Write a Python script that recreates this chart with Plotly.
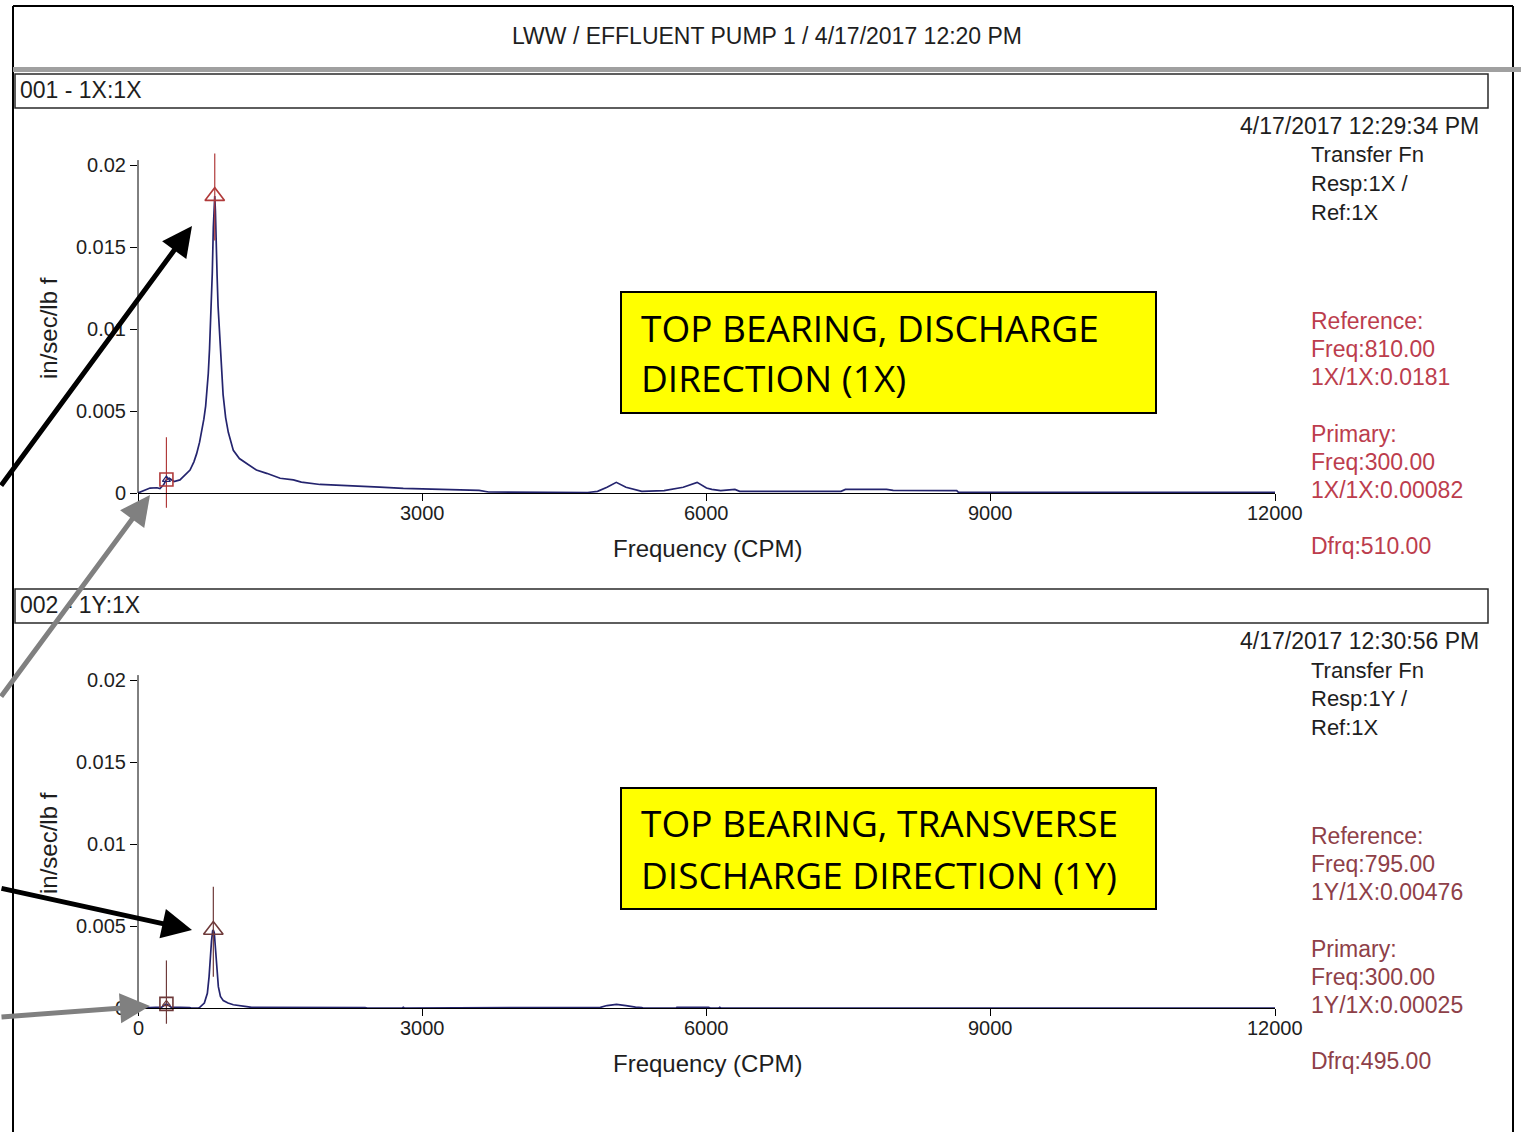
import plotly.graph_objects as go

# ---------------- DATA ----------------
freq_top = [0, 60, 127, 200, 232, 270, 300, 330, 380, 443, 500, 549, 590, 619, 650, 672, 695, 714,
            730, 742, 755, 767, 784, 795, 802, 810, 817, 823, 835, 845, 860, 876, 898, 925, 953,
            1006, 1070, 1147, 1250, 1358, 1500, 1640, 1724, 1921, 2060, 2300, 2463, 2550, 2800,
            3100, 3403, 3600, 3700, 3974, 4746, 4850, 4950, 5048, 5150, 5317, 5552, 5754, 5901,
            6000, 6056, 6150, 6190, 6230, 6300, 6350, 7420, 7466, 7900, 7970, 8641, 8660, 10589,
            10620, 11450, 11480, 11700, 11720, 11880, 11900, 12000]
amp_top = [0, 0.00015, 0.0003, 0.00032, 0.00027, 0.0005, 0.00082, 0.0009, 0.0007, 0.0008, 0.0011,
           0.0014, 0.0019, 0.0024, 0.0031, 0.0037, 0.0045, 0.0053, 0.0063, 0.0073, 0.0088, 0.0104,
           0.0134, 0.0162, 0.0177, 0.0181, 0.0172, 0.0154, 0.0132, 0.0114, 0.0098, 0.0080, 0.0060,
           0.0046, 0.0037, 0.0026, 0.0021, 0.0018, 0.0014, 0.0012, 0.0009, 0.0008, 0.00066,
           0.00052, 0.00049, 0.00045, 0.00042, 0.00036, 0.00028, 0.00022, 0.00018, 0.00016,
           0.00006, 0.00004, 0.00003, 0.0001, 0.00035, 0.00065, 0.00035, 0.0001, 0.00014, 0.00035,
           0.00065, 0.0003, 0.00022, 0.00014, 0.00016, 0.00022, 0.00022, 0.0001, 0.0001, 0.00022,
           0.00022, 0.00016, 0.00014, 0.00004, 0.00004, 0.0, 0.0, 0.00004, 0.00004, 0.0, 0.0,
           0.00004, 0.00004]

freq_bot = [0, 100, 250, 300, 350, 545, 560, 640, 654, 700, 732, 750, 760, 776, 788, 795, 805, 815,
            830, 848, 870, 900, 950, 1006, 1147, 1200, 2396, 2420, 2790, 2800, 2810, 2990, 3000,
            3100, 3120, 3860, 3873, 4880, 4950, 5050, 5150, 5250, 5317, 5330, 5680, 5687, 6022,
            6040, 6130, 6140, 6150, 9270, 9280, 10287, 10300, 10380, 10389, 10723, 10740, 11650,
            11664, 11966, 12000]
amp_bot = [0, 0.00003, 0.00005, 0.00025, 0.00005, 0.00003, 0.0, 0.0, 0.00005, 0.0003, 0.0009,
           0.0019, 0.0029, 0.0041, 0.0047, 0.00476, 0.0046, 0.0039, 0.0029, 0.0013, 0.0007,
           0.00045, 0.0003, 0.0002, 0.00008, 0.00004, 0.00003, 0.0, 0.0, 0.00004, 0.0, 0.0,
           0.00004, 0.00004, 0.0, 0.0, 0.00003, 0.00004, 0.00015, 0.00022, 0.00015, 0.00005,
           0.00003, 0.0, 0.0, 0.00004, 0.00004, 0.0, 0.0, 0.00004, 0.0, 0.0, 0.00003, 0.00003,
           0.0, 0.0, 0.00003, 0.00003, 0.0, 0.0, 0.00004, 0.00004, 0.0]

x_ticks = [0, 3000, 6000, 9000, 12000]
x_tick_text = ["0", "3000", "6000", "9000", "12000"]
y_ticks = [0, 0.005, 0.01, 0.015, 0.02]
y_tick_text = ["0", "0.005", "0.01", "0.015", "0.02"]

# cursor values (frequency, amplitude)
ref_freq = [810, 795]
ref_amp = [0.0181, 0.00476]
prim_freq = [300, 300]
prim_amp = [0.00082, 0.00025]

title_text = "LWW / EFFLUENT PUMP 1 / 4/17/2017 12:20 PM"
panel_names = ["001 - 1X:1X", "002 - 1Y:1X"]
panel_dates = ["4/17/2017 12:29:34 PM", "4/17/2017 12:30:56 PM"]
panel_info = [["Transfer Fn", "Resp:1X /", "Ref:1X"], ["Transfer Fn", "Resp:1Y /", "Ref:1X"]]
panel_cursor_text = [
    [["Reference:", "Freq:810.00", "1X/1X:0.0181"], ["Primary:", "Freq:300.00", "1X/1X:0.00082"], ["Dfrq:510.00"]],
    [["Reference:", "Freq:795.00", "1Y/1X:0.00476"], ["Primary:", "Freq:300.00", "1Y/1X:0.00025"], ["Dfrq:495.00"]],
]
callout_text = [["TOP BEARING, DISCHARGE", "DIRECTION (1X)"],
                ["TOP BEARING, TRANSVERSE", "DISCHARGE DIRECTION (1Y)"]]
y_title = "in/sec/lb f"
x_title = "Frequency (CPM)"

# ---------------- LAYOUT GEOMETRY ----------------
W, H = 1521, 1132
def xp(px):
    return px / W
def yp(py):
    return 1 - py / H

FONT = "Liberation Sans, Arial, sans-serif"
TXT = "#1e1e1e"
CURVE = "#24246e"
RED = ["#bc3d4d", "#8e4048"]
CURSOR = ["#b03a3a", "#6e3a3a"]

X0_PX, X1_PX = 138, 1275
Y0_PX = [493, 1008]        # pixel row of amplitude 0 in each panel
PX_PER_UNIT = 16400.0
YLO, YHI = -0.0012, 0.0215
OFF = 515                   # vertical offset between the two panels

fig = go.Figure()

curves = [(freq_top, amp_top), (freq_bot, amp_bot)]
cursor_ref_span = [(0.0154, 0.0207), (0.0019, 0.0074)]
cursor_prim_span = [(-0.0009, 0.0034), (-0.00096, 0.0029)]

shapes = []
annotations = []

for i in range(2):
    xa = "x" if i == 0 else "x2"
    ya = "y" if i == 0 else "y2"
    fx, fy = curves[i]
    fig.add_trace(go.Scatter(x=fx, y=fy, mode="lines", xaxis=xa, yaxis=ya,
                             line=dict(color=CURVE, width=1.7), showlegend=False, hoverinfo="skip"))
    fig.add_trace(go.Scatter(x=[ref_freq[i], ref_freq[i]], y=list(cursor_ref_span[i]), mode="lines",
                             xaxis=xa, yaxis=ya, line=dict(color=CURSOR[i], width=1.2),
                             showlegend=False, hoverinfo="skip"))
    fig.add_trace(go.Scatter(x=[prim_freq[i], prim_freq[i]], y=list(cursor_prim_span[i]), mode="lines",
                             xaxis=xa, yaxis=ya, line=dict(color=CURSOR[i], width=1.2),
                             showlegend=False, hoverinfo="skip"))
    fig.add_trace(go.Scatter(x=[ref_freq[i]], y=[ref_amp[i]], mode="markers", xaxis=xa, yaxis=ya,
                             marker=dict(symbol="triangle-up-open", size=17, color=CURSOR[i],
                                         line=dict(width=1.6, color=CURSOR[i])),
                             cliponaxis=False, showlegend=False, hoverinfo="skip"))
    fig.add_trace(go.Scatter(x=[prim_freq[i]], y=[prim_amp[i]], mode="markers", xaxis=xa, yaxis=ya,
                             marker=dict(symbol="square-open", size=13, color=CURSOR[i],
                                         line=dict(width=1.6, color=CURSOR[i])),
                             cliponaxis=False, showlegend=False, hoverinfo="skip"))
    fig.add_trace(go.Scatter(x=[prim_freq[i]], y=[prim_amp[i]], mode="markers", xaxis=xa, yaxis=ya,
                             marker=dict(symbol="triangle-up-open", size=7,
                                         color=CURVE if i == 0 else CURSOR[i],
                                         line=dict(width=1.2, color=CURVE if i == 0 else CURSOR[i])),
                             cliponaxis=False, showlegend=False, hoverinfo="skip"))

    y0 = Y0_PX[i]
    top_px = y0 - YHI * PX_PER_UNIT
    bot_px = y0 - YLO * PX_PER_UNIT
    xaxis = dict(domain=[xp(X0_PX), xp(X1_PX)], range=[0, 12000], anchor="free", position=yp(y0),
                 showline=True, linecolor="black", linewidth=1, ticks="outside", ticklen=7,
                 tickcolor="black", tickwidth=1, tickvals=x_ticks, showticklabels=False,
                 showgrid=False, zeroline=False, fixedrange=True, automargin=False)
    yaxis = dict(domain=[yp(bot_px), yp(top_px)], range=[YLO, YHI], anchor=xa,
                 showline=False, ticks="outside", ticklen=7, tickcolor="black", tickwidth=1,
                 tickvals=y_ticks, ticktext=y_tick_text,
                 tickfont=dict(family=FONT, size=20, color=TXT), showgrid=False, zeroline=False,
                 fixedrange=True, automargin=False)
    if i == 0:
        fig.update_layout(xaxis=xaxis, yaxis=yaxis)
    else:
        fig.update_layout(xaxis2=xaxis, yaxis2=yaxis)

    d = i * OFF
    # x tick labels placed through the x axis scale
    for v, t in zip(x_ticks, x_tick_text):
        annotations.append(dict(text=t, x=v, xref=xa, y=yp(513 + d), yref="paper",
                                xanchor="center", yanchor="middle", showarrow=False,
                                font=dict(family=FONT, size=20, color=TXT)))

    shapes.append(dict(type="line", xref="paper", yref=ya, x0=xp(X0_PX), x1=xp(X0_PX),
                       y0=0, y1=0.0203, line=dict(color="black", width=1)))

    shapes.append(dict(type="rect", xref="paper", yref="paper", x0=xp(15), x1=xp(1488),
                       y0=yp(108 + d), y1=yp(74 + d), line=dict(color="#2a2a2a", width=1.5)))
    annotations.append(dict(text=panel_names[i], x=xp(18), y=yp(90 + d), xref="paper", yref="paper",
                            xanchor="left", yanchor="middle", showarrow=False,
                            font=dict(family=FONT, size=23, color=TXT)))
    annotations.append(dict(text=panel_dates[i], x=xp(1481), y=yp(126 + d), xref="paper", yref="paper",
                            xanchor="right", yanchor="middle", showarrow=False,
                            font=dict(family=FONT, size=23, color=TXT)))
    for k, line in enumerate(panel_info[i]):
        annotations.append(dict(text=line, x=xp(1309), y=yp(155 + d + 28.5 * k), xref="paper",
                                yref="paper", xanchor="left", yanchor="middle", showarrow=False,
                                font=dict(family=FONT, size=22, color=TXT)))
    starts = [321, 434, 546]
    for g, group in enumerate(panel_cursor_text[i]):
        for k, line in enumerate(group):
            annotations.append(dict(text=line, x=xp(1309), y=yp(starts[g] + d + 28 * k), xref="paper",
                                    yref="paper", xanchor="left", yanchor="middle", showarrow=False,
                                    font=dict(family=FONT, size=23, color=RED[i])))
    annotations.append(dict(text=x_title, x=xp(707), y=yp(548 + d), xref="paper", yref="paper",
                            xanchor="center", yanchor="middle", showarrow=False,
                            font=dict(family=FONT, size=24, color=TXT)))
    annotations.append(dict(text=y_title, x=xp(48), y=yp(328 + d), xref="paper", yref="paper",
                            xanchor="center", yanchor="middle", showarrow=False, textangle=-90,
                            font=dict(family=FONT, size=24, color=TXT)))
    shapes.append(dict(type="rect", xref="paper", yref="paper", x0=xp(621), x1=xp(1156),
                       y0=yp(413 + (788 - 292) * i), y1=yp(292 + (788 - 292) * i),
                       fillcolor="#ffff00", line=dict(color="black", width=2)))
    for k, line in enumerate(callout_text[i]):
        annotations.append(dict(text=line, x=xp(639), y=yp(327 + (788 - 292) * i + 51 * k),
                                xref="paper", yref="paper", xanchor="left", yanchor="middle",
                                showarrow=False, font=dict(family="Open Sans, sans-serif", size=37,
                                                            color="black")))

shapes.append(dict(type="line", xref="paper", yref="paper", x0=xp(13), x1=xp(1513), y0=yp(6), y1=yp(6),
                   line=dict(color="black", width=2)))
shapes.append(dict(type="line", xref="paper", yref="paper", x0=xp(13), x1=xp(13), y0=yp(6), y1=yp(1132),
                   line=dict(color="black", width=2)))
shapes.append(dict(type="line", xref="paper", yref="paper", x0=xp(1513), x1=xp(1513), y0=yp(6), y1=yp(1132),
                   line=dict(color="black", width=2)))
shapes.append(dict(type="line", xref="paper", yref="paper", x0=xp(13), x1=xp(1521), y0=yp(69.5), y1=yp(69.5),
                   line=dict(color="#a0a0a0", width=5)))
annotations.insert(0, dict(text=title_text, x=xp(767), y=yp(36), xref="paper", yref="paper",
                           xanchor="center", yanchor="middle", showarrow=False,
                           font=dict(family=FONT, size=23, color=TXT)))

arrows = [((192, 226), (0, 487), "black"),
          ((150, 495), (0, 698), "#808080"),
          ((192, 930), (0, 888), "black"),
          ((150, 1006), (0, 1017), "#808080")]
for (tx, ty), (sx, sy), col in arrows:
    annotations.append(dict(text="", x=xp(tx), y=yp(ty), xref="paper", yref="paper",
                            ax=sx - tx, ay=sy - ty, showarrow=True, arrowhead=2, arrowsize=1.2,
                            arrowwidth=5, arrowcolor=col, standoff=0))

fig.update_layout(width=W, height=H, autosize=False,
                  margin=dict(l=0, r=0, t=0, b=0, pad=0, autoexpand=False),
                  paper_bgcolor="white", plot_bgcolor="white", showlegend=False,
                  shapes=shapes, annotations=annotations)

fig.write_html("out.html", config={"displayModeBar": False},
               post_script="document.body.style.margin='0px';")
